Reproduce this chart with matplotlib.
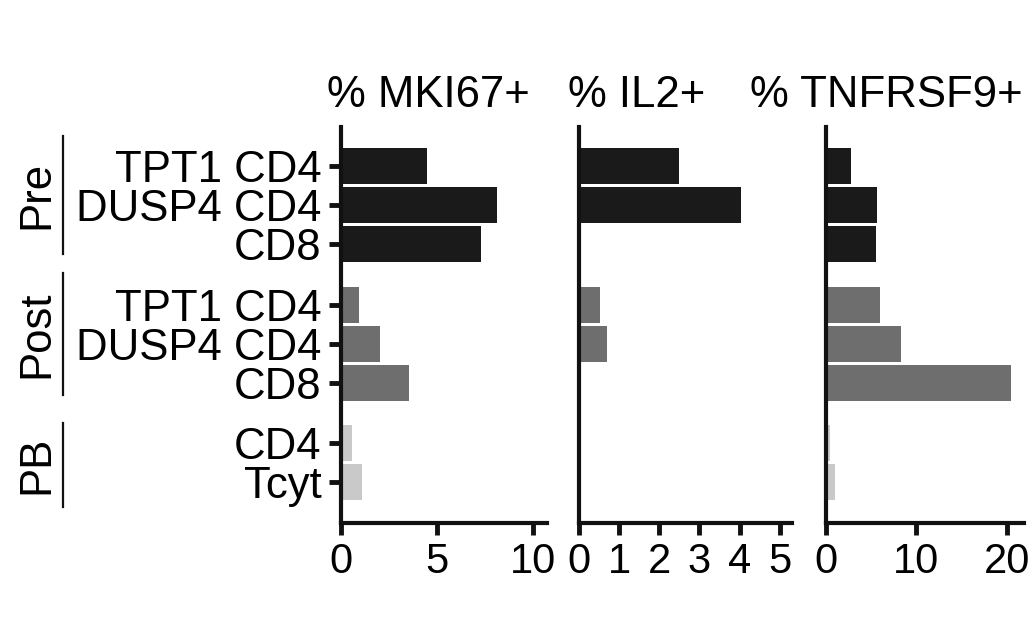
import matplotlib
matplotlib.use('Agg')
import matplotlib.pyplot as plt
import matplotlib.transforms as mtransforms
from matplotlib.lines import Line2D
from matplotlib import font_manager
import numpy as np

# ---------------- data ----------------
groups = ['Pre', 'Post', 'PB']
group_sizes = [3, 3, 2]
categories = ['TPT1 CD4', 'DUSP4 CD4', 'CD8',
              'TPT1 CD4', 'DUSP4 CD4', 'CD8',
              'CD4', 'Tcyt']
mki67 = [4.48, 8.11, 7.31, 0.98, 2.07, 3.54, 0.59, 1.13]
il2 = [2.5, 4.04, 0.0, 0.53, 0.71, 0.0, 0.0, 0.0]
tnfrsf9 = [2.8, 5.64, 5.53, 6.0, 8.26, 20.46, 0.44, 1.0]
titles = ['% MKI67+', '% IL2+', '% TNFRSF9+']
xtick_values = [[0, 5, 10], [0, 1, 2, 3, 4, 5], [0, 10, 20]]
xlims = [10.7, 5.3, 21.9]

# ---------------- style ----------------
group_colors = ['#1a1a1a', '#6e6e6e', '#c9c9c9']
W, H = 1034, 627
MAIN_FONT = 'Liberation Sans'
try:
    font_manager.findfont('Liberation Sans Narrow', fallback_to_default=False)
    NARROW_FONT = 'Liberation Sans Narrow'
except Exception:
    NARROW_FONT = 'Liberation Sans'

plt.rcParams['font.family'] = [MAIN_FONT, 'DejaVu Sans']

# positions of bars with gaps between groups
gap = 0.55
positions = []
colors = []
start = 0.0
for gi, n in enumerate(group_sizes):
    for k in range(n):
        positions.append(start + k)
        colors.append(group_colors[gi])
    start += n + gap
positions = np.array(positions)

fig = plt.figure(figsize=(W / 100, H / 100), dpi=100)

axes_px = [(340.5, 206.0), (579.0, 212.7), (826.0, 198.0)]
top_px, bottom_px = 126.7, 523.0
bar_h = 0.92
spine_lw = 3.0

datasets = [mki67, il2, tnfrsf9]
title_x_px = [327, 568, 750]

axes = []
for i, (lx, wx) in enumerate(axes_px):
    ax = fig.add_axes([lx / W, (H - bottom_px) / H, wx / W, (bottom_px - top_px) / H])
    vals = datasets[i]
    ax.barh(positions, vals, height=bar_h, color=colors, edgecolor='none')
    ax.set_xlim(0, xlims[i])
    ax.set_ylim(9.15, -1.01)
    for s in ['top', 'right']:
        ax.spines[s].set_visible(False)
    for s in ['left', 'bottom']:
        ax.spines[s].set_linewidth(spine_lw)
        ax.spines[s].set_color('#111111')
    ax.set_xticks(xtick_values[i])
    ax.set_xticklabels([str(v) for v in xtick_values[i]],
                       fontsize=30, family=[NARROW_FONT, 'DejaVu Sans'])
    ax.tick_params(axis='x', length=8.5, width=3.5, color='#111111', pad=5)
    if i == 0:
        ax.set_yticks(positions)
        ax.set_yticklabels(categories, fontsize=31.5)
        ax.tick_params(axis='y', length=8.5, width=3.5, color='#111111', pad=5)
    else:
        ax.set_yticks([])
    fig.text(title_x_px[i] / W, (H - 107) / H, titles[i], fontsize=31.5,
             ha='left', va='baseline')
    axes.append(ax)

# group brackets on the left
ax0 = axes[0]
trans = mtransforms.blended_transform_factory(fig.transFigure, ax0.transData)
line_ext = [(-0.77, 2.26), (2.74, 5.87), (6.59, 8.74)]
line_x = 62.7 / W
for gi, g in enumerate(groups):
    y0, y1 = line_ext[gi]
    fig.add_artist(Line2D([line_x, line_x], [y0, y1], transform=trans,
                          color='#111111', lw=1.6, clip_on=False))
    fig.text(57 / W, (y0 + y1) / 2, g, transform=trans, rotation=90,
             fontsize=31.5, ha='right', va='center', rotation_mode='default')

fig.savefig('out.png', dpi=100, facecolor='white')
